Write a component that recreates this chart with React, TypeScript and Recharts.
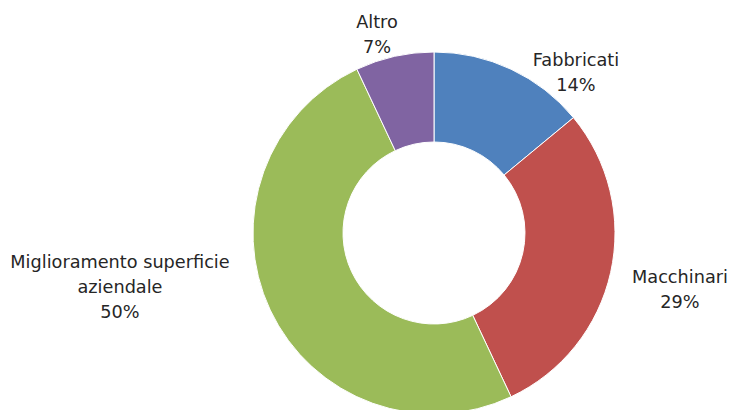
import { PieChart, Pie, Cell } from 'recharts';

const categories = ['Fabbricati', 'Macchinari', 'Miglioramento superficie aziendale', 'Altro'];
const values = [14, 29, 50, 7];
const colors = ['#4F81BD', '#C0504D', '#9BBB59', '#8064A2'];

// label text split into lines, and where each label sits relative to the pie centre
const labelLines = [['Fabbricati'], ['Macchinari'], ['Miglioramento superficie', 'aziendale'], ['Altro']];
const labelOffsets = [
  [142, -173],
  [246, 44],
  [-314, 29],
  [-57, -211],
];

const data = categories.map((name, i) => ({ name, value: values[i] }));

const renderLabel = (props: any) => {
  const { cx, cy, index, percent } = props;
  const [dx, dy] = labelOffsets[index];
  const lines = [...labelLines[index], `${Math.round(percent * 100)}%`];
  return (
    <text
      x={cx + dx}
      y={cy + dy}
      textAnchor="middle"
      dominantBaseline="central"
      fill="#262626"
      fontSize={17.7}
      fontFamily="'DejaVu Sans', Verdana, sans-serif"
    >
      {lines.map((l, i) => (
        <tspan key={i} x={cx + dx} dy={i === 0 ? 0 : 25}>
          {l}
        </tspan>
      ))}
    </text>
  );
};

const App = () => {
  return (
    <div style={{ position: 'absolute', top: 0, left: 0, width: 733, height: 410, overflow: 'hidden' }}>
      <PieChart width={733} height={410} margin={{ top: 0, right: 0, bottom: 0, left: 0 }}>
        <Pie
          data={data}
          dataKey="value"
          nameKey="name"
          cx={434}
          cy={233}
          innerRadius={91}
          outerRadius={181}
          startAngle={90}
          endAngle={-270}
          stroke="#ffffff"
          strokeWidth={1}
          label={renderLabel}
          labelLine={false}
          isAnimationActive={false}
        >
          {data.map((d, i) => (
            <Cell key={d.name} fill={colors[i]} />
          ))}
        </Pie>
      </PieChart>
    </div>
  );
};

export default App;
